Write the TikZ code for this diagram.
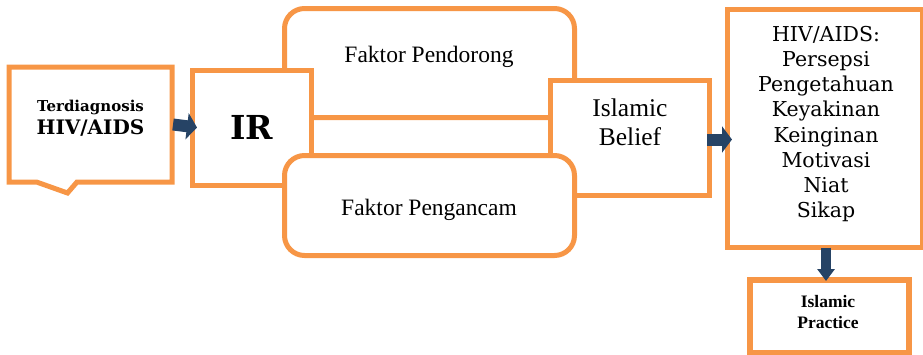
\documentclass[tikz,border=0pt]{standalone}
\usepackage{fontspec}
\setmainfont{Liberation Serif}
\newfontfamily\slabfont{DejaVu Serif}
\usetikzlibrary{arrows.meta,calc}
\definecolor{boxorange}{HTML}{F79646}
\definecolor{arrowblue}{HTML}{264365}
\tikzset{
  obox/.style={draw=boxorange, line width=5pt, fill=white, inner sep=0pt,
    outer sep=0pt, rectangle, align=center},
  rbox/.style={obox, rounded corners=20pt},
  wideflow/.style={draw=arrowblue, line width=12pt,
    -{Triangle[length=10pt,width=26pt]}},
  narrowflow/.style={draw=arrowblue, line width=10pt,
    -{Triangle[length=12pt,width=17pt]}},
}
\begin{document}
\begin{tikzpicture}[x=1pt,y=-1pt]
\useasboundingbox (0,0) rectangle (923,354);

% factor box behind the central row
\node[rbox, minimum width=290pt, minimum height=109pt] (fp) at (429.5,63) {};
\node[font=\fontsize{23.5}{28}\selectfont] (fpt) at (429,57) {Faktor Pendorong};

% diagnosis callout
\node[minimum width=163pt, minimum height=115pt, inner sep=0pt, outer sep=0pt] (t) at (90.5,124.5) {};
\draw[boxorange, line width=5pt, line join=miter]
  (t.north west) -- (t.north east) -- (t.south east)
  -- ($(t.south west)+(68,0)$) -- ($(t.south west)+(58.5,11)$)
  -- ($(t.south west)+(27.5,0)$) -- (t.south west) -- cycle;
\node[font=\slabfont\bfseries\fontsize{15}{18}\selectfont] (tt1) at (90.5,107) {Terdiagnosis};
\node[font=\slabfont\bfseries\fontsize{20}{24}\selectfont] (tt2) at (90.5,128) {HIV/AIDS};

% IR box
\node[obox, minimum width=119pt, minimum height=115pt,
  font=\slabfont\bfseries\fontsize{33}{38}\selectfont] (ir) at (251.5,127.5) {IR};

% Islamic Belief box
\node[obox, minimum width=159pt, minimum height=115pt] (ib) at (630,138) {};
\node[font=\fontsize{25.5}{29}\selectfont, align=center] (ibt) at (630,122)
  {Islamic\\Belief};

% factor box in front
\node[rbox, minimum width=290pt, minimum height=100pt] (fa) at (429.5,205.5) {};
\node[font=\fontsize{23.5}{28}\selectfont] (fat) at (429,210) {Faktor Pengancam};

% outcome box
\node[obox, minimum width=194.5pt, minimum height=238pt] (rb) at (824.75,128.5) {};
\node[font=\slabfont\fontsize{20.5}{25.2}\selectfont, align=center] (rbt) at (826,124)
  {HIV/AIDS:\\Persepsi\\Pengetahuan\\Keyakinan\\Keinginan\\Motivasi\\Niat\\Sikap};

% practice box
\node[obox, line width=6pt, minimum width=159pt, minimum height=73pt] (pr) at (829,316) {};
\node[font=\bfseries\fontsize{17.5}{21}\selectfont, align=center] (prt) at (828,312.5)
  {Islamic\\Practice};

% flow arrows
\draw[wideflow] ([xshift=1pt]t.east) -- ([xshift=5pt]ir.west);
\draw[wideflow] ([xshift=-2.5pt,yshift=-1.5pt]ib.east) -- ([xshift=4.5pt,yshift=-1.5pt]ib.east -| rb.west);
\draw[narrowflow] ([xshift=1.25pt]rb.south) -- ([xshift=1.25pt,yshift=-1.5pt]rb.south |- pr.north);
\end{tikzpicture}
\end{document}
